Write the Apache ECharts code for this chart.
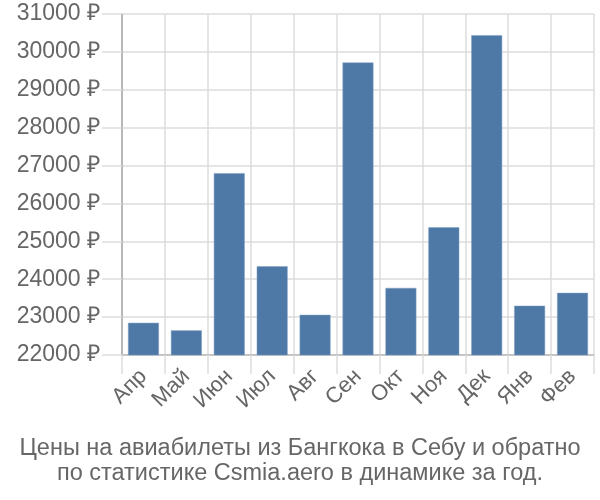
<!DOCTYPE html>
<html>
<head>
<meta charset="utf-8">
<script src="https://cdn.jsdelivr.net/npm/echarts@6/dist/echarts.min.js"></script>
<style>html,body{margin:0;padding:0;background:#fff}#c{width:600px;height:500px}</style>
</head>
<body>
<div id="c"></div>
<script>
const categories = ["Апр","Май","Июн","Июл","Авг","Сен","Окт","Ноя","Дек","Янв","Фев"];
const prices = [22850, 22650, 26800, 24340, 23060, 29720, 23770, 25370, 30440, 23300, 23640];
const titleLines = ["Цены на авиабилеты из Бангкока в Себу и обратно", "по статистике Csmia.aero в динамике за год."];

const FONT = 'Liberation Sans, Arial, sans-serif';
const chart = echarts.init(document.getElementById('c'), null, {renderer: 'canvas'});
chart.setOption({
  animation: false,
  title: {
    text: titleLines.join('\n'),
    left: 'center',
    top: 431,
    textStyle: {fontFamily: FONT, fontSize: 23.5, fontWeight: 'normal', color: '#666', lineHeight: 25}
  },
  grid: {left: 122, right: 6, top: 14, bottom: 145, containLabel: false},
  xAxis: {
    type: 'category',
    data: categories,
    axisLine: {show: true, lineStyle: {color: '#bbb', width: 1.5}},
    axisTick: {show: true, alignWithLabel: false, length: 19, lineStyle: {color: '#ddd', width: 1.5}},
    splitLine: {show: true, lineStyle: {color: '#ddd', width: 1.5}},
    axisLabel: {rotate: 45, fontSize: 22, color: '#666', margin: 18, fontFamily: FONT, interval: 0}
  },
  yAxis: {
    type: 'value',
    min: 22000, max: 31000, interval: 1000,
    axisLine: {show: true, lineStyle: {color: '#aaa', width: 1.5}},
    axisTick: {show: true, length: 20, lineStyle: {color: '#ddd', width: 1.5}},
    splitLine: {show: true, lineStyle: {color: '#ddd', width: 1.5}},
    axisLabel: {fontSize: 23, color: '#666', margin: 22, fontFamily: FONT,
      formatter: v => v + ' ₽'}
  },
  series: [{
    type: 'bar',
    data: prices,
    barCategoryGap: '28%',
    itemStyle: {color: '#4e79a7', borderColor: '#7f9fc2', borderWidth: 0.5}
  }]
});
</script>
</body>
</html>
